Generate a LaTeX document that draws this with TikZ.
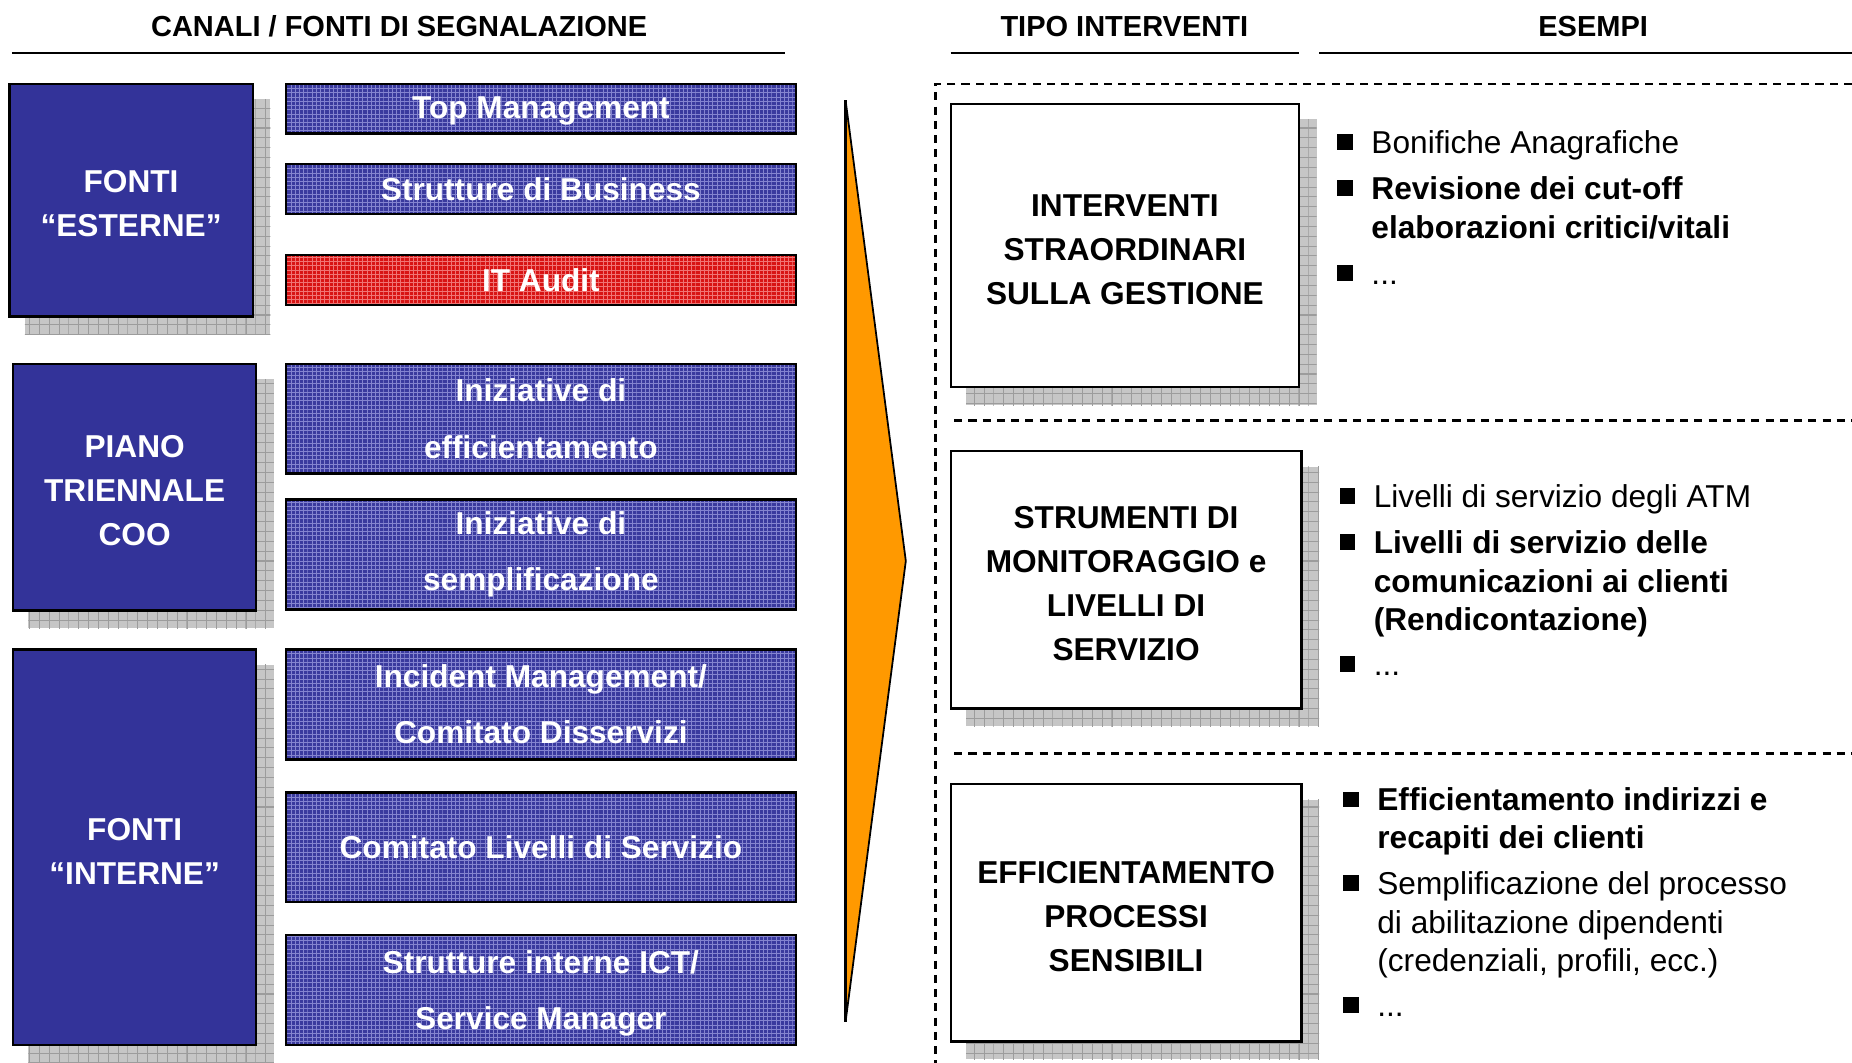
\documentclass[tikz,border=0pt]{standalone}
\usepackage{fontspec}
\setmainfont{Liberation Sans}
\usetikzlibrary{calc,patterns,backgrounds}

\definecolor{fontiblue}{HTML}{333399}
\definecolor{barblue}{HTML}{3A3A9E}
\definecolor{barline}{HTML}{8484D0}
\definecolor{barred}{HTML}{D81414}
\definecolor{redline}{HTML}{F07474}
\definecolor{shadowgray}{HTML}{C6C6C6}
\definecolor{gridgray}{HTML}{9C9C9C}
\definecolor{arroworange}{HTML}{FF9900}

\pgfdeclarepatternformonly{shgrid}{\pgfqpoint{-0.3pt}{-0.3pt}}{\pgfqpoint{5.9pt}{5.9pt}}{\pgfqpoint{5.6pt}{5.6pt}}{%
  \pgfsetlinewidth{0.6pt}%
  \pgfpathmoveto{\pgfqpoint{0pt}{0pt}}%
  \pgfpathlineto{\pgfqpoint{5.6pt}{0pt}}%
  \pgfpathmoveto{\pgfqpoint{0pt}{0pt}}%
  \pgfpathlineto{\pgfqpoint{0pt}{5.6pt}}%
  \pgfusepath{stroke}}

\pgfdeclarepatternformonly{bargrid}{\pgfqpoint{-0.3pt}{-0.3pt}}{\pgfqpoint{2.7pt}{2.7pt}}{\pgfqpoint{2.4pt}{2.4pt}}{%
  \pgfsetlinewidth{0.45pt}%
  \pgfpathmoveto{\pgfqpoint{0pt}{0pt}}%
  \pgfpathlineto{\pgfqpoint{2.4pt}{0pt}}%
  \pgfpathmoveto{\pgfqpoint{0pt}{0pt}}%
  \pgfpathlineto{\pgfqpoint{0pt}{2.4pt}}%
  \pgfusepath{stroke}}

% \mybox{style}{name}{x1}{y1}{x2}{y2}{text}
\newcommand{\mybox}[7]{%
  \node[#1, minimum width={(#5-#3)*0.67197pt}, minimum height={(#6-#4)*0.67197pt}]
    (#2) at ({(#3+#5)/2},{(#4+#6)/2}) {#7};}
\newcommand{\topstrut}{\rule{0pt}{16.8pt}}

\begin{document}
\begin{tikzpicture}[x=0.02362cm,y=-0.02362cm,
  header/.style={font=\fontsize{16.5}{20}\selectfont\bfseries, inner sep=0pt, anchor=base},
  headline/.style={line width=1.4pt},
  bigbox/.style={draw=black, line width=1.3pt, fill=fontiblue, inner sep=0pt, text=white,
    font=\fontsize{18}{25}\selectfont\bfseries, align=center},
  barbox/.style={draw=black, line width=1.3pt, preaction={fill=barblue}, pattern=bargrid,
    pattern color=barline, inner sep=0pt, text=white,
    font=\fontsize{18}{32}\selectfont\bfseries, align=center},
  redbox/.style={barbox, preaction={fill=barred}, pattern color=redline},
  whitebox/.style={draw=black, line width=1.3pt, fill=white, inner sep=0pt, text=black,
    font=\fontsize{18}{25}\selectfont\bfseries, align=center},
  shadowbox/.style={fill=shadowgray, postaction={pattern=shgrid, pattern color=gridgray}},
  dashframe/.style={line width=1.4pt, dash pattern=on 4.6pt off 3.5pt},
  bul/.style={rectangle, fill=black, minimum size=9pt, inner sep=0pt},
  btxt/.style={font=\fontsize{18}{22}\selectfont, inner sep=0pt, anchor=base west},
  btxtb/.style={btxt, font=\fontsize{18}{22}\selectfont\bfseries}
]
\useasboundingbox (0,0) rectangle (1568.2,900);

% headers
\node[header] (h1) at (338,31) {CANALI / FONTI DI SEGNALAZIONE};
\node[header] (h2) at (952,31) {TIPO INTERVENTI};
\node[header] (h3) at (1349,31) {ESEMPI};
\draw[headline] (10,45) -- (665,45);
\draw[headline] (805,45) -- (1100,45);
\draw[headline] (1117,45) -- (1568.2,45);

% left big boxes
\mybox{bigbox}{est}{8}{71}{214}{268}{\topstrut FONTI\\“ESTERNE”}
\mybox{bigbox}{piano}{11}{308}{217}{517}{\topstrut PIANO\\TRIENNALE\\COO}
\mybox{bigbox}{int}{11}{550}{217}{885}{\topstrut FONTI\\“INTERNE”}

% bars
\mybox{barbox}{topm}{242}{71}{674}{113}{\rule{0pt}{15pt}Top Management}
\mybox{barbox}{sbus}{242}{139}{674}{181}{Strutture di Business}
\mybox{redbox}{itaud}{242}{216}{674}{258}{IT Audit}
\mybox{barbox}{ieff}{242}{308}{674}{401}{Iniziative di\\efficientamento}
\mybox{barbox}{isem}{242}{423}{674}{516}{Iniziative di\\semplificazione}
\mybox{barbox}{incm}{242}{550}{674}{643}{Incident Management/\\Comitato Disservizi}
\mybox{barbox}{cls}{242}{671}{674}{764}{Comitato Livelli di Servizio}
\mybox{barbox}{sict}{242}{792}{674}{885}{\topstrut Strutture interne ICT/\\Service Manager}

% arrow
\coordinate (atop) at (716,85);
\coordinate (atip) at (767,475);
\coordinate (abot) at (716,865);
\draw[fill=arroworange, line width=1pt, line join=miter] (atop) -- (atip) -- (abot) -- cycle;
\draw[line width=1.6pt] (atop) -- (abot);

% dashed frame
\draw[dashframe] (1568.2,71) -- (792,71) -- (792,900);
\draw[dashframe] (808,356) -- (1568.2,356);
\draw[dashframe] (808,638) -- (1568.2,638);

% right boxes
\mybox{whitebox}{tip1}{805}{88}{1100}{328}{\topstrut INTERVENTI\\STRAORDINARI\\SULLA GESTIONE}
\mybox{whitebox}{tip2}{805}{382}{1102}{600}{\topstrut STRUMENTI DI\\MONITORAGGIO e\\LIVELLI DI\\SERVIZIO}
\mybox{whitebox}{tip3}{805}{664}{1102}{882}{\topstrut EFFICIENTAMENTO\\PROCESSI\\SENSIBILI}

% shadows
\begin{scope}[on background layer]
  \foreach \b in {est,piano,int,tip1,tip2,tip3}{
    \path[shadowbox] ($(\b.north west)+(14,14)$) rectangle ($(\b.south east)+(14,14)$);
  }
\end{scope}

% bullets box 1
\node[bul] (b1a) at (1139,120) {};
\node[btxt] (t1a) at (1161,129.6) {Bonifiche Anagrafiche};
\node[bul] (b1b) at (1139,159) {};
\node[btxtb] (t1b) at (1161,168.6) {Revisione dei cut-off};
\node[btxtb] (t1c) at (1161,201.6) {elaborazioni critici/vitali};
\node[bul] (b1d) at (1139,231) {};
\node[btxt] (t1d) at (1161,240.6) {...};

% bullets box 2
\node[bul] (b2a) at (1141,420) {};
\node[btxt] (t2a) at (1163,429.6) {Livelli di servizio degli ATM};
\node[bul] (b2b) at (1141,459) {};
\node[btxtb] (t2b) at (1163,468.6) {Livelli di servizio delle};
\node[btxtb] (t2c) at (1163,501.6) {comunicazioni ai clienti};
\node[btxtb] (t2d) at (1163,533.6) {(Rendicontazione)};
\node[bul] (b2e) at (1141,562) {};
\node[btxt] (t2e) at (1163,571.6) {...};

% bullets box 3
\node[bul] (b3a) at (1144,677) {};
\node[btxtb] (t3a) at (1166,686.6) {Efficientamento indirizzi e};
\node[btxtb] (t3b) at (1166,718.6) {recapiti dei clienti};
\node[bul] (b3c) at (1144,748) {};
\node[btxt] (t3c) at (1166,757.6) {Semplificazione del processo};
\node[btxt] (t3d) at (1166,790.6) {di abilitazione dipendenti};
\node[btxt] (t3e) at (1166,822.6) {(credenziali, profili, ecc.)};
\node[bul] (b3f) at (1144,851) {};
\node[btxt] (t3f) at (1166,860.6) {...};
\end{tikzpicture}
\end{document}
